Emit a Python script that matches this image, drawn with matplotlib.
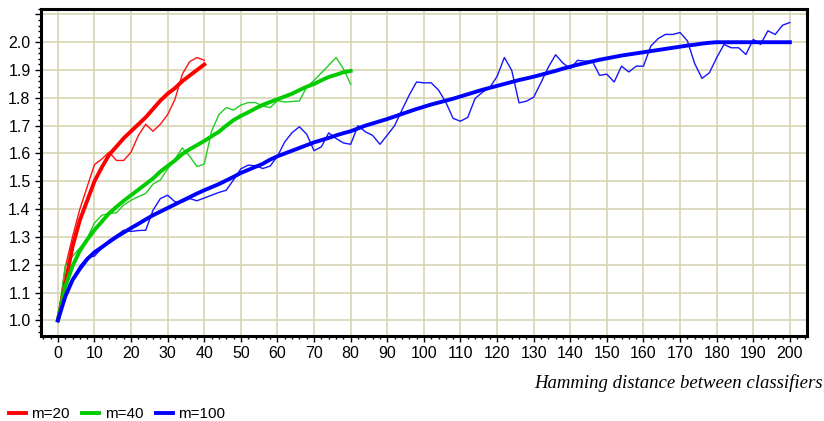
import matplotlib
matplotlib.use("Agg")
import matplotlib.pyplot as plt
from matplotlib.ticker import MultipleLocator, FixedLocator

# Hamming distance samples (every 2 units)
x20 = list(range(0, 41, 2))
x40 = list(range(0, 81, 2))
x100 = list(range(0, 201, 2))

# m=20: measured (thin) and smoothed (thick)
m20_raw = [1.0, 1.19, 1.30, 1.40, 1.48, 1.56, 1.58, 1.605, 1.575, 1.575, 1.605,
           1.665, 1.705, 1.68, 1.705, 1.74, 1.795, 1.885, 1.93, 1.945, 1.935]
m20_fit = [1.0, 1.13, 1.265, 1.36, 1.43, 1.50, 1.55, 1.595, 1.625, 1.655, 1.68,
           1.705, 1.73, 1.76, 1.79, 1.815, 1.835, 1.86, 1.88, 1.90, 1.92]

# m=40
m40_raw = [1.0, 1.195, 1.23, 1.26, 1.295, 1.35, 1.378, 1.384, 1.387, 1.415, 1.432,
           1.445, 1.456, 1.49, 1.505, 1.545, 1.58, 1.62, 1.59, 1.553, 1.562,
           1.68, 1.74, 1.765, 1.756, 1.774, 1.783, 1.783, 1.77, 1.765, 1.79,
           1.785, 1.787, 1.789, 1.839, 1.863, 1.89, 1.917, 1.945, 1.905, 1.849]
m40_fit = [1.0, 1.12, 1.195, 1.25, 1.29, 1.325, 1.355, 1.385, 1.408, 1.43, 1.45,
           1.47, 1.49, 1.51, 1.535, 1.555, 1.575, 1.598, 1.615, 1.63, 1.645,
           1.662, 1.678, 1.70, 1.72, 1.735, 1.748, 1.762, 1.775, 1.785, 1.795,
           1.805, 1.815, 1.828, 1.84, 1.85, 1.863, 1.875, 1.883, 1.892, 1.897]

# m=100
m100_raw = [1.0, 1.09, 1.15, 1.195, 1.226, 1.231, 1.26, 1.288, 1.305, 1.324, 1.32,
            1.323, 1.324, 1.396, 1.438, 1.45, 1.426, 1.426, 1.438, 1.43, 1.44,
            1.45, 1.46, 1.468, 1.505, 1.545, 1.558, 1.556, 1.546, 1.555, 1.59,
            1.642, 1.675, 1.696, 1.669, 1.61, 1.624, 1.674, 1.654, 1.638, 1.633,
            1.70, 1.678, 1.665, 1.633, 1.666, 1.70, 1.756, 1.81, 1.857, 1.854,
            1.854, 1.828, 1.784, 1.726, 1.716, 1.73, 1.798, 1.82, 1.837, 1.877,
            1.945, 1.899, 1.782, 1.788, 1.802, 1.855, 1.91, 1.955, 1.925, 1.905,
            1.935, 1.932, 1.933, 1.881, 1.885, 1.857, 1.914, 1.893, 1.914, 1.914,
            1.986, 2.013, 2.028, 2.028, 2.035, 2.005, 1.923, 1.87, 1.89, 1.944,
            1.992, 1.98, 1.98, 1.956, 2.01, 1.992, 2.041, 2.028, 2.061, 2.071]
m100_fit = [1.0, 1.085, 1.145, 1.185, 1.22, 1.245, 1.263, 1.282, 1.30, 1.316, 1.332,
            1.347, 1.363, 1.378, 1.391, 1.404, 1.417, 1.43, 1.443, 1.456, 1.468,
            1.479, 1.49, 1.503, 1.516, 1.53, 1.541, 1.552, 1.563, 1.578, 1.59,
            1.60, 1.61, 1.62, 1.63, 1.64, 1.648, 1.656, 1.665, 1.673, 1.68,
            1.69, 1.70, 1.708, 1.716, 1.724, 1.733, 1.742, 1.751, 1.76, 1.768,
            1.776, 1.783, 1.79, 1.797, 1.805, 1.813, 1.821, 1.829, 1.836, 1.843,
            1.85, 1.857, 1.864, 1.87, 1.876, 1.883, 1.89, 1.897, 1.905, 1.912,
            1.919, 1.925, 1.931, 1.937, 1.942, 1.947, 1.952, 1.956, 1.96, 1.964,
            1.968, 1.972, 1.976, 1.98, 1.984, 1.988, 1.991, 1.995, 1.998, 2.0,
            2.0, 2.0, 2.0, 2.0, 2.0, 2.0, 2.0, 2.0, 2.0, 2.0]

labels = ["m=20", "m=40", "m=100"]
colors = ["#ff0000", "#00cc00", "#0000ff"]
thin_colors = ["#ff1010", "#22cc22", "#1515ff"]
y_ticks = [1.0, 1.1, 1.2, 1.3, 1.4, 1.5, 1.6, 1.7, 1.8, 1.9, 2.0, 2.1]
y_ticklabels = ["1.0", "1.1", "1.2", "1.3", "1.4", "1.5", "1.6", "1.7", "1.8", "1.9", "2.0", ""]
x_ticks = list(range(0, 201, 10))

sans = "Liberation Sans"

fig = plt.figure(figsize=(8.24, 4.21), dpi=100)
ax = fig.add_axes([0.0498, 0.202, 0.9292, 0.777])

series = [(x20, m20_raw, m20_fit), (x40, m40_raw, m40_fit), (x100, m100_raw, m100_fit)]
handles = []
for (xs, raw, fit), c, tc, lab in zip(series, colors, thin_colors, labels):
    ax.plot(xs, raw, color=tc, lw=1.0, zorder=3)
    h, = ax.plot(xs, fit, color=c, lw=2.8, zorder=4, label=lab)
    handles.append(h)

ax.set_xlim(-4.6, 204.6)
ax.set_ylim(0.944, 2.12)
ax.set_xticks(x_ticks)
ax.xaxis.set_minor_locator(MultipleLocator(2))
ax.yaxis.set_major_locator(FixedLocator(y_ticks))
ax.set_yticklabels(y_ticklabels)
ax.yaxis.set_minor_locator(MultipleLocator(0.02))
ax.grid(True, which="major", color="#d8d5b4", lw=1.2, zorder=0)
ax.tick_params(which="major", length=4, width=1, direction="out", labelsize=11.5)
ax.tick_params(which="minor", length=2, width=1, direction="out")
for lbl in ax.get_xticklabels() + ax.get_yticklabels():
    lbl.set_family(sans)
for s in ax.spines.values():
    s.set_linewidth(2.2)

fig.text(0.998, 0.09, "Hamming distance between classifiers", ha="right", va="center",
         family="Liberation Serif", style="italic", fontsize=13.5)

leg = fig.legend(handles=handles, loc="lower left", bbox_to_anchor=(-0.006, -0.033), ncol=3,
                 frameon=False, handlelength=1.1, columnspacing=0.85, handletextpad=0.35,
                 prop={"family": sans, "size": 11})
for lh in leg.get_lines():
    lh.set_linewidth(2.8)

fig.savefig("out.png", dpi=100)
